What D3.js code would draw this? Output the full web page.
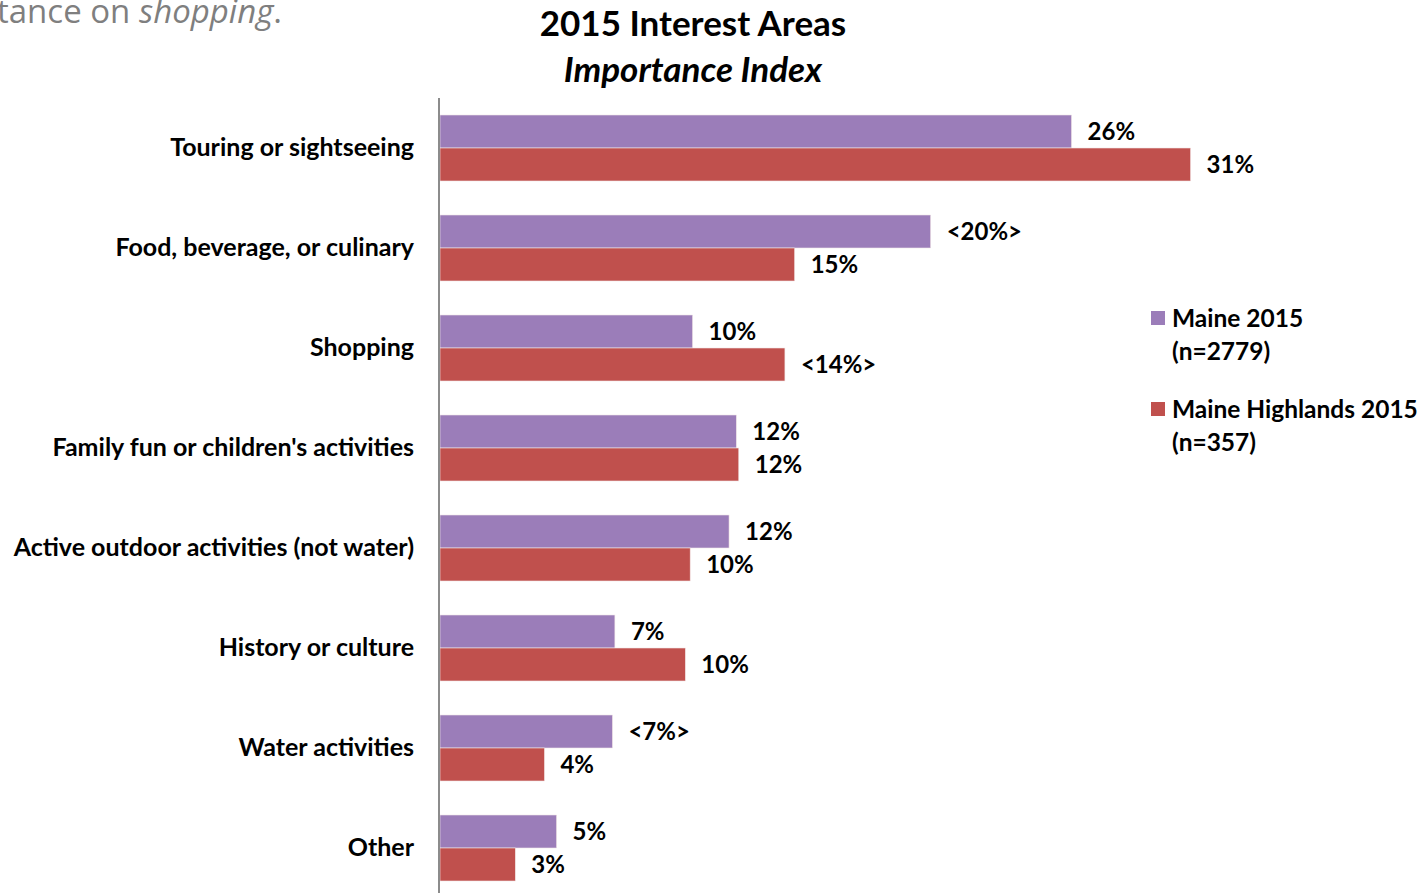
<!DOCTYPE html>
<html>
<head>
<meta charset="utf-8">
<script src="https://cdn.jsdelivr.net/npm/d3@7"></script>
<style>
  html, body { margin: 0; padding: 0; background: #fff; }
  svg { display: block; }
</style>
</head>
<body>
<svg id="chart" width="1420" height="893"></svg>
<script>
// Interest areas, top to bottom
const categories = [
  "Touring or sightseeing",
  "Food, beverage, or culinary",
  "Shopping",
  "Family fun or children's activities",
  "Active outdoor activities (not water)",
  "History or culture",
  "Water activities",
  "Other"
];
const seriesNames = ["Maine 2015", "Maine Highlands 2015"];
const seriesSample = ["(n=2779)", "(n=357)"];
// Importance index (%) per series
const maineValues     = [26.0, 20.2, 10.4, 12.2, 11.9, 7.2, 7.1, 4.8];
const highlandsValues = [30.9, 14.6, 14.2, 12.3, 10.3, 10.1, 4.3, 3.1];
// Angle brackets mark significant differences
const maineLabels     = ["26%", "<20%>", "10%", "12%", "12%", "7%", "<7%>", "5%"];
const highlandsLabels = ["31%", "15%", "<14%>", "12%", "10%", "10%", "4%", "3%"];

const colors = ["#9B7DB9", "#C0504D"];
const font = "Lato, 'Open Sans', sans-serif";

const svg = d3.select("#chart");

const rows = categories.map((c, i) => ({
  cat: c,
  vals: [
    { s: 0, v: maineValues[i], label: maineLabels[i] },
    { s: 1, v: highlandsValues[i], label: highlandsLabels[i] }
  ]
}));

const x0 = 440;
const x = d3.scaleLinear().domain([0, 31]).range([x0, x0 + 753]);
const y = d3.scaleBand().domain(categories).range([98, 898]).paddingInner(0.34).paddingOuter(0.17);
const ySub = d3.scaleBand().domain([0, 1]).range([0, y.bandwidth()]);

// Caption text running in from the page edge
const cap = svg.append("text")
  .attr("x", -3).attr("y", 23)
  .attr("font-family", "'Open Sans', sans-serif")
  .attr("font-size", 33)
  .attr("fill", "#7f7f7f");
cap.append("tspan").text("tance on ");
cap.append("tspan").attr("font-style", "italic").text("shopping");
cap.append("tspan").text(".");

// Title
svg.append("text")
  .attr("x", 693).attr("y", 36)
  .attr("text-anchor", "middle")
  .attr("font-family", font).attr("font-weight", "bold")
  .attr("font-size", 35).attr("fill", "#000")
  .text("2015 Interest Areas");
svg.append("text")
  .attr("x", 693).attr("y", 82)
  .attr("text-anchor", "middle")
  .attr("font-family", font).attr("font-weight", "bold").attr("font-style", "italic")
  .attr("font-size", 35).attr("fill", "#000")
  .text("Importance Index");

// Bars
const groups = svg.append("g").selectAll("g")
  .data(rows).join("g")
  .attr("transform", d => `translate(0,${y(d.cat)})`);

groups.selectAll("rect")
  .data(d => d.vals).join("rect")
  .attr("x", x(0))
  .attr("y", d => ySub(d.s))
  .attr("width", d => x(d.v) - x(0))
  .attr("height", ySub.bandwidth())
  .attr("fill", d => colors[d.s])
  .attr("stroke", "#f2e6e6").attr("stroke-width", 0.6);

groups.selectAll("text.val")
  .data(d => d.vals).join("text")
  .attr("class", "val")
  .attr("x", d => x(d.v) + 16)
  .attr("y", d => ySub(d.s) + ySub.bandwidth() / 2)
  .attr("dy", "0.35em")
  .attr("font-family", font).attr("font-weight", "bold")
  .attr("font-size", 24).attr("fill", "#000")
  .text(d => d.label);

// Category axis
const yAxis = d3.axisLeft(y).tickSize(0).tickPadding(26);
const ax = svg.append("g").attr("transform", `translate(${x0},0)`).call(yAxis);
ax.select(".domain").remove();
ax.selectAll("text")
  .attr("font-family", font).attr("font-weight", "bold")
  .attr("font-size", 25).attr("fill", "#000");
svg.append("line")
  .attr("x1", x0 - 1).attr("x2", x0 - 1)
  .attr("y1", 98).attr("y2", 893)
  .attr("stroke", "#8c8c8c").attr("stroke-width", 2);

// Legend
const legend = svg.append("g").selectAll("g")
  .data(seriesNames).join("g")
  .attr("transform", (d, i) => `translate(1151,${318 + i * 91})`);
legend.append("rect")
  .attr("x", 0).attr("y", -7).attr("width", 14).attr("height", 14)
  .attr("fill", (d, i) => colors[i]);
legend.append("text")
  .attr("x", 21).attr("y", 0).attr("dy", "0.35em")
  .attr("font-family", font).attr("font-weight", "bold")
  .attr("font-size", 24.5).attr("fill", "#000")
  .text(d => d);
legend.append("text")
  .attr("x", 21).attr("y", 33).attr("dy", "0.35em")
  .attr("font-family", font).attr("font-weight", "bold")
  .attr("font-size", 24.5).attr("fill", "#000")
  .text((d, i) => seriesSample[i]);
</script>
</body>
</html>
